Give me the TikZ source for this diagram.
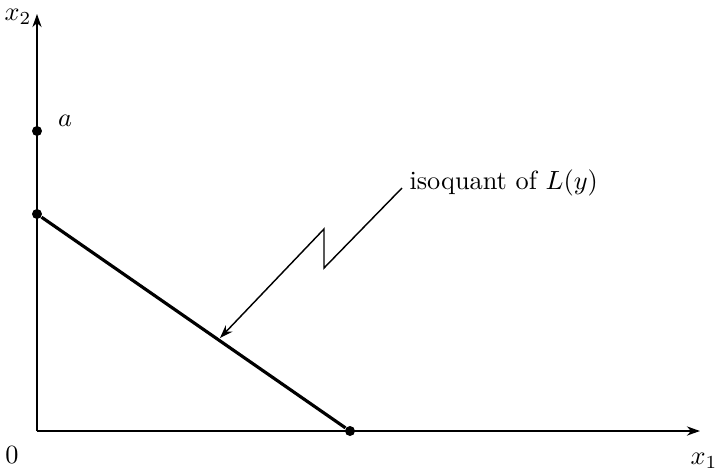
\documentclass[tikz,border=0pt]{standalone}
\usetikzlibrary{arrows.meta}
\begin{document}
\begin{tikzpicture}[x=0.38pt,y=-0.38pt,
  axis/.style={line width=0.7pt,-{Stealth[length=5pt,width=3.5pt]}},
  dot/.style={circle,fill=black,inner sep=0pt,minimum size=3.8pt},
  lbl/.style={inner sep=0pt}]
\useasboundingbox (0,0) rectangle (716,470);
\coordinate (O) at (37,431);
\coordinate (ytop) at (37,14);
\coordinate (xend) at (700,431);
\draw[axis] (O) -- (ytop);
\draw[axis] (O) -- (xend);
\node[dot] (a) at (37,131) {};
\node[dot] (b) at (37,214) {};
\node[dot] (c) at (350,431) {};
\draw[line width=1.2pt] (b) -- (c);
\node[lbl] (la) at (65,121) {$a$};
\node[lbl] (l0) at (12,455) {$0$};
\node[lbl] (lx2) at (18,17) {$x_2$};
\node[lbl,anchor=west] (lx1) at (690,461) {$x_1$};
\node[lbl,anchor=west] (iso) at (409,183) {isoquant of $L(y)$};
\coordinate (start) at (402,188);
\coordinate (zlow) at (324,268);
\coordinate (zhigh) at (324,229);
\coordinate (tip) at (220,338);
\draw[line width=0.55pt,-{Stealth[length=5pt,width=3.5pt]}] (start) -- (zlow) -- (zhigh) -- (tip);
\end{tikzpicture}
\end{document}
